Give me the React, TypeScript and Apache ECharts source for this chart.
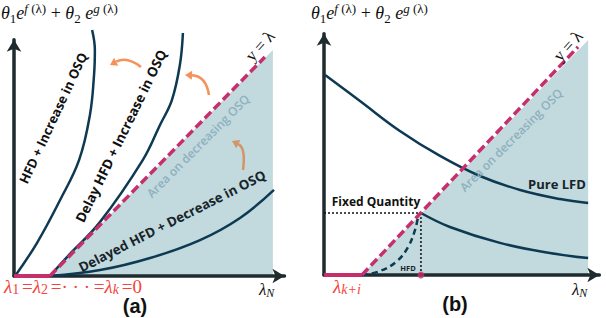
import React, { useEffect, useRef } from "react";
import * as echarts from "echarts";

// ---------- Panel (a) data (chart units) ----------
const aBaseline = [[0, 0], [13, 0]];
const aDiagonal = [[13, 0], [90.9, 89.0]];
const aShade = [[13, 0], [93.8, 91.9]];
const aCurveHFD = [[0.4, 0], [8.3, 13.4], [16.7, 30.9], [23.6, 47.2], [27.5, 65.4], [29.0, 81.7], [29.3, 91.9], [28.3, 100]];
const aCurveDelayHFD = [[13, 0], [19.2, 7.7], [31.2, 22.0], [46.7, 47.2], [52.9, 61.4], [57.2, 71.5], [60.1, 85.8], [61.2, 98.8]];
const aCurveDecrease = [[13, 0], [31.2, 2.4], [49.3, 7.3], [67.4, 14.6], [81.9, 23.6], [94.2, 35.0]];

// ---------- Panel (b) data (chart units) ----------
const bBaseline = [[0, 0], [13.5, 0]];
const bDiagonal = [[13.5, 0], [90.4, 93.1]];
const bShade = [[13.5, 0], [94.0, 95.9]];
const bPureLFD = [[0.4, 81.6], [12.8, 71.0], [27.0, 58.8], [41.3, 48.6], [55.5, 40.4], [69.8, 34.7], [84.0, 31.0], [94.0, 29.4]];
const bAfterFixed = [[34.5, 25.3], [44.8, 19.6], [62.6, 13.1], [80.4, 9.0], [94.0, 6.9]];
const bHFD = [[13.5, 0], [19.9, 1.6], [26.0, 5.7], [29.9, 11.4], [32.4, 18.4], [33.5, 24.1]];
const bFixedH = [[0, 25.3], [34.5, 25.3]];
const bFixedV = [[34.5, 25.3], [34.5, 0]];
const bFixedPoint = [[34.5, 0]];

const CURVE = "#0d3a52";
const PINK = "#c62f6c";
const SHADE = "#c2d9dd";
const AXIS = "#1e2b2f";
const ORANGE = "#f6915a";
const TAN = "#d39467";
const AREA_TXT = "#8eb0bf";
const RED = "#f2443c";

function axis(gridIndex: number, max: number) {
  return {
    type: "value",
    gridIndex,
    min: 0,
    max,
    z: 1,
    axisLine: {
      show: true,
      onZero: false,
      lineStyle: { color: AXIS, width: 3.5 },
      symbol: ["none", "arrow"],
      symbolSize: [11, 12],
    },
    axisTick: { show: false },
    axisLabel: { show: false },
    splitLine: { show: false },
  };
}

function line(idx: number, data: number[][], color: string, width: number, type: any = "solid", smooth: any = false, z = 3) {
  return {
    type: "line",
    xAxisIndex: idx,
    yAxisIndex: idx,
    data,
    symbol: "none",
    smooth,
    clip: false,
    z,
    lineStyle: { color, width, type, cap: "butt" },
  };
}

function shade(idx: number, data: number[][]) {
  return {
    type: "line",
    xAxisIndex: idx,
    yAxisIndex: idx,
    data,
    symbol: "none",
    z: 0,
    lineStyle: { width: 0, color: SHADE },
    areaStyle: { color: SHADE, opacity: 1 },
  };
}

function label(text: string, x: number, y: number, deg: number, size: number, color: string, weight: any = 700, family = "Open Sans") {
  return {
    type: "text",
    x,
    y,
    z: 100,
    rotation: (deg * Math.PI) / 180,
    style: { text, fontSize: size, fontWeight: weight, fontFamily: family, fill: color, align: "center", verticalAlign: "middle" },
  };
}

function arrow(p0: number[], c: number[], p1: number[], color: string) {
  const dx = p1[0] - c[0];
  const dy = p1[1] - c[1];
  const len = Math.hypot(dx, dy);
  const ux = dx / len;
  const uy = dy / len;
  const hl = 7;
  const hw = 4.5;
  const base = [p1[0] - ux * hl, p1[1] - uy * hl];
  const l = [base[0] - uy * hw, base[1] + ux * hw];
  const r = [base[0] + uy * hw, base[1] - ux * hw];
  return [
    { type: "bezierCurve", z: 100, shape: { x1: p0[0], y1: p0[1], x2: base[0], y2: base[1], cpx1: c[0], cpy1: c[1] }, style: { stroke: color, lineWidth: 2.5, fill: null } },
    { type: "polygon", z: 100, shape: { points: [p1, l, r] }, style: { fill: color } },
  ];
}

const SERIF = "Liberation Serif";
const mathRich: any = {
  t: { fontFamily: SERIF, fontStyle: "italic", fontSize: 18, lineHeight: 23, verticalAlign: "middle", fill: "#111" },
  o: { fontFamily: SERIF, fontSize: 18, lineHeight: 23, verticalAlign: "middle", fill: "#111" },
  sub: { fontFamily: SERIF, fontSize: 13, lineHeight: 13, verticalAlign: "bottom", fill: "#111" },
  sup: { fontFamily: SERIF, fontStyle: "italic", fontSize: 13, lineHeight: 13, verticalAlign: "top", fill: "#111" },
  supu: { fontFamily: SERIF, fontSize: 13, lineHeight: 13, verticalAlign: "top", fill: "#111" },
};
const redRich: any = {
  l: { fontFamily: SERIF, fontStyle: "italic", fontSize: 19, lineHeight: 20, verticalAlign: "middle", fill: RED },
  o: { fontFamily: SERIF, fontSize: 19, lineHeight: 20, verticalAlign: "middle", fill: RED },
  s: { fontFamily: SERIF, fontSize: 14, lineHeight: 12, verticalAlign: "bottom", fill: RED },
  si: { fontFamily: SERIF, fontStyle: "italic", fontSize: 14, lineHeight: 12, verticalAlign: "bottom", fill: RED },
};
const blackSubRich: any = {
  l: { fontFamily: SERIF, fontStyle: "italic", fontSize: 17, lineHeight: 19, verticalAlign: "middle", fill: "#111" },
  si: { fontFamily: SERIF, fontStyle: "italic", fontSize: 12, lineHeight: 11, verticalAlign: "bottom", fill: "#111" },
};

const yLabel = "{t|θ}{sub|1}{t|e}{sup|f}{supu| (λ)}{o| + }{t|θ}{sub|2}{t| e}{sup|g}{supu| (λ)}";
const redLabel = "{l|λ}{s|1\u2009}{o|=}{l|λ}{s|2\u2009}{o|=· · ·\u2009=}{l|λ}{si|k\u2009}{o|=0}";

function mathText(text: string, rich: any, x: number, y: number, align = "left", deg = 0) {
  return {
    type: "text",
    x,
    y,
    z: 100,
    rotation: (deg * Math.PI) / 180,
    style: { text, rich, align, verticalAlign: "middle" },
  };
}

export default function App() {
  const ref = useRef<HTMLDivElement>(null);
  useEffect(() => {
    document.body.style.margin = "0";
    const chart = echarts.init(ref.current!, null, { renderer: "svg" });
    const option: any = {
      animation: false,
      backgroundColor: "#ffffff",
      grid: [
        { left: 14, top: 39.84, width: 270.48, height: 236.16 },
        { left: 324, top: 33.68, width: 275.38, height: 241.32 },
      ],
      xAxis: [axis(0, 98), axis(1, 98)],
      yAxis: [axis(0, 96), axis(1, 98.5)],
      series: [
        shade(0, aShade),
        line(0, aCurveHFD, CURVE, 2.5, "solid", 0.4),
        line(0, aCurveDelayHFD, CURVE, 2.5, "solid", 0.4),
        line(0, aCurveDecrease, CURVE, 2.5, "solid", 0.4),
        line(0, aDiagonal, PINK, 3.5, [9, 4]),
        line(0, aBaseline, PINK, 4),
        shade(1, bShade),
        line(1, bPureLFD, CURVE, 2.5, "solid", 0.4),
        line(1, bAfterFixed, CURVE, 2.5, "solid", 0.4),
        line(1, bHFD, CURVE, 2.5, [6, 4], 0.4),
        line(1, bFixedH, "#111", 1.5, [2, 2]),
        line(1, bFixedV, "#111", 1.5, [2, 2]),
        line(1, bDiagonal, PINK, 3.5, [9, 4], false, 4),
        line(1, bBaseline, PINK, 4),
        {
          type: "scatter",
          xAxisIndex: 1,
          yAxisIndex: 1,
          data: bFixedPoint,
          symbolSize: 7,
          z: 5,
          clip: false,
          itemStyle: { color: PINK },
        },
      ],
      graphic: [
        mathText(yLabel, mathRich, 1, 13),
        mathText(yLabel, mathRich, 311, 13),
        mathText(redLabel, redRich, 4, 286),
        mathText("{l|λ}{si|k+i}", redRich, 333, 286),
        mathText("{l|λ}{si|N}", blackSubRich, 259, 289),
        mathText("{l|λ}{si|N}", blackSubRich, 572, 289),
        label("HFD + Increase in OSQ", 53, 118, 65, 13, "#111"),
        label("Delay HFD + Increase in OSQ", 121, 136, 64, 13.5, "#111"),
        label("Delayed HFD + Decrease in OSQ", 172, 221, 27, 13.3, "#16242b"),
        label("Area on decreasing OSQ", 198, 146, 45, 12, AREA_TXT, 600),
        label("Area on decreasing OSQ", 511, 140, 45, 12, AREA_TXT, 600),
        label("y = λ", 260, 46, 48, 17, "#111", 400, SERIF),
        label("y = λ", 568, 46, 48, 17, "#111", 400, SERIF),
        label("Fixed Quantity", 376, 201, 0, 12, "#111"),
        label("Pure LFD", 557, 184, 0, 13, "#16242b"),
        label("HFD", 408, 268, 0, 7.5, "#16242b"),
        label("(a)", 135, 306, 0, 20, "#111", 700, "Liberation Sans"),
        label("(b)", 455, 304, 0, 20, "#111", 700, "Liberation Sans"),
        ...arrow([141, 67], [127, 56], [110, 65], ORANGE),
        ...arrow([209, 95], [206, 76], [185, 75], ORANGE),
        ...arrow([243, 170], [246, 148], [232, 141], TAN),
      ],
    };
    chart.setOption(option);
    return () => chart.dispose();
  }, []);
  return <div ref={ref} style={{ width: 606, height: 318 }} />;
}
